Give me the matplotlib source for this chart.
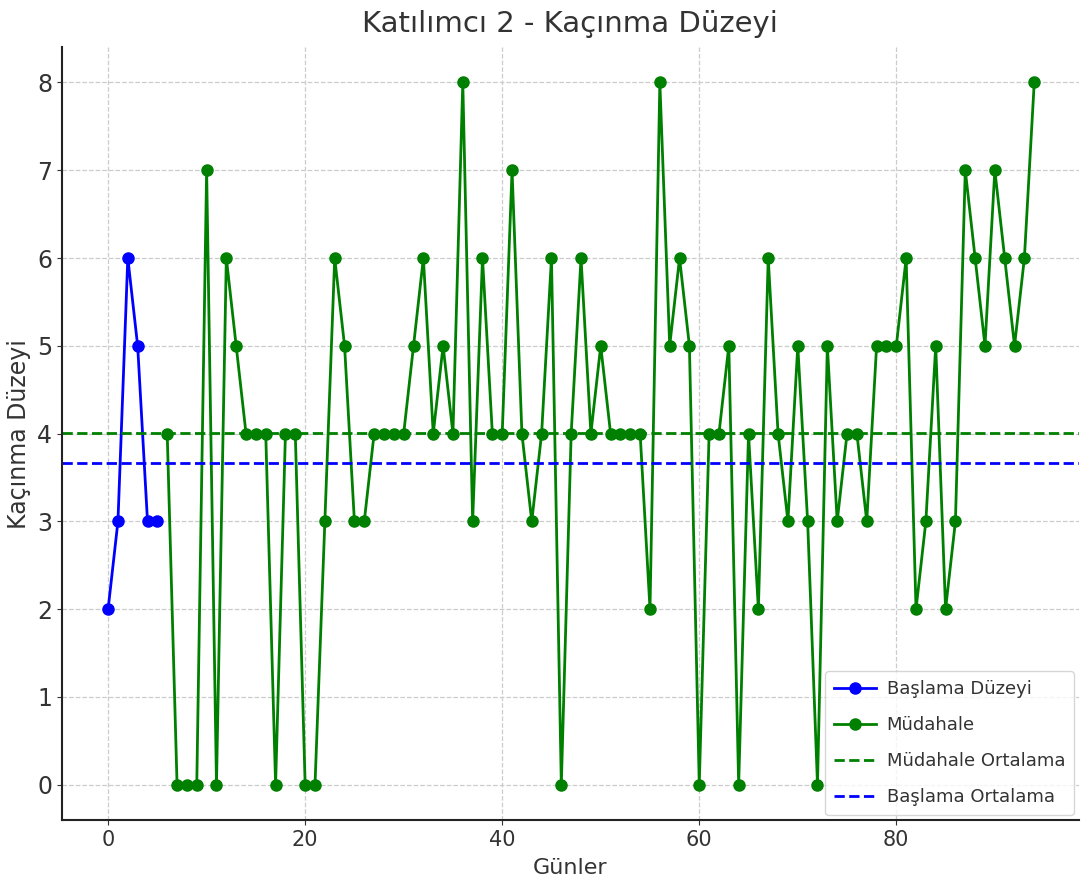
import numpy as np
import matplotlib.pyplot as plt

# ============================================================
# DATA
# ============================================================
baseline_days = list(range(0, 6))
baseline_vals = [2, 3, 6, 5, 3, 3]

interv_days = list(range(6, 95))
interv_vals = [
    4, 0, 0, 0, 7, 0, 6, 5, 4, 4, 4,
    0, 4, 4, 0, 0, 3, 6, 5, 3, 3,
    4, 4, 4, 4, 5, 6, 4, 5, 4, 8,
    3, 6, 4, 4, 7, 4, 3, 4, 6, 0,
    4, 6, 4, 5, 4, 4, 4, 4, 2, 8,
    5, 6, 5, 0, 4, 4, 5, 0, 4, 2,
    6, 4, 3, 5, 3, 0, 5, 3, 4, 4,
    3, 5, 5, 5, 6, 2, 3, 5, 2, 3,
    7, 6, 5, 7, 6, 5, 6, 8,
]

baseline_mean = np.mean(baseline_vals)
interv_mean = np.mean(interv_vals)

TXT = "#333333"

fig, ax = plt.subplots(figsize=(10.84, 8.94), dpi=100)
fig.subplots_adjust(left=0.057, right=0.995, top=0.947, bottom=0.083)

ax.plot(baseline_days, baseline_vals, marker="o", color="blue", linewidth=2,
        markersize=8, label="Başlama Düzeyi")
ax.plot(interv_days, interv_vals, marker="o", color="green", linewidth=2,
        markersize=8, label="Müdahale")
ax.axhline(interv_mean, color="green", linestyle="--", linewidth=2, label="Müdahale Ortalama")
ax.axhline(baseline_mean, color="blue", linestyle="--", linewidth=2, label="Başlama Ortalama")

ax.set_title("Katılımcı 2 - Kaçınma Düzeyi", fontsize=21, color=TXT, pad=11)
ax.set_xlabel("Günler", fontsize=16, color=TXT, labelpad=6)
ax.set_ylabel("Kaçınma Düzeyi", fontsize=17, color=TXT)
ax.tick_params(axis="x", labelsize=15, colors=TXT)
ax.tick_params(axis="y", labelsize=17, colors=TXT)
ax.set_xticks([0, 20, 40, 60, 80])
ax.set_yticks(range(0, 9))
ax.set_xlim(-4.7, 98.5)
ax.set_ylim(-0.4, 8.4)
ax.grid(True, linestyle="--", color="#cccccc", linewidth=0.9)
for s in ["top", "right"]:
    ax.spines[s].set_visible(False)
for s in ["left", "bottom"]:
    ax.spines[s].set_linewidth(1.5)
    ax.spines[s].set_color("#222222")
leg = ax.legend(loc="lower right", fontsize=13, labelspacing=1.0,
                handlelength=2.3, handletextpad=0.6, borderpad=0.5,
                borderaxespad=0.25)
for t in leg.get_texts():
    t.set_color(TXT)

plt.savefig("out.png", dpi=100)
plt.close()
